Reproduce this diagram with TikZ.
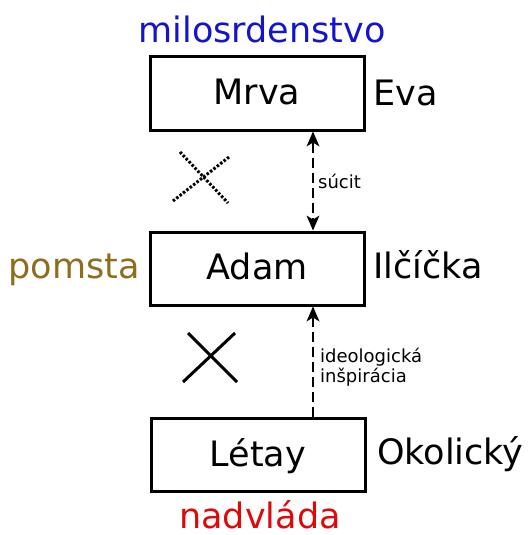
\documentclass[tikz,border=0pt]{standalone}
\usepackage{fontspec}
\setmainfont{DejaVu Sans}
\usetikzlibrary{arrows.meta}
\definecolor{cblue}{RGB}{20,20,205}
\definecolor{cred}{RGB}{220,10,10}
\definecolor{colive}{RGB}{140,110,30}
\tikzset{
  bigfont/.style={font=\fontsize{35}{40}\selectfont},
  smallfont/.style={font=\fontsize{18}{20}\selectfont},
  charbox/.style={draw, line width=3pt, minimum width=214pt, minimum height=73pt,
    inner sep=0pt, text height=25pt, text depth=3pt, bigfont},
  lbl/.style={inner sep=0pt, bigfont},
  slbl/.style={inner sep=0pt, smallfont},
  rel/.style={line width=2.4pt, dash pattern=on 10pt off 5pt,
    -{Stealth[length=15pt,width=13pt,inset=4pt,line width=0pt]}},
  relboth/.style={rel, {Stealth[length=15pt,width=13pt,inset=4pt,line width=0pt]}-{Stealth[length=15pt,width=13pt,inset=4pt,line width=0pt]}},
  cross/.style={line width=3pt}
}
\begin{document}
\begin{tikzpicture}[x=1pt,y=-1pt]
\useasboundingbox (0,0) rectangle (527,535);
\node[charbox] (mrva) at (257,93.5) {Mrva};
\node[charbox] (adam) at (257,268.5) {Adam};
\node[charbox] (letay) at (258,455) {Létay};
\node[lbl, anchor=base west] (eva) at (373,105) {Eva};
\node[lbl, anchor=base west] (ilcicka) at (373,278) {Ilčíčka};
\node[lbl, anchor=base west] (okolicky) at (377,464) {Okolický};
\node[lbl, anchor=base east, text=colive] (pomsta) at (140,278) {pomsta};
\node[lbl, anchor=base, text=cblue] (milos) at (262,43) {milosrdenstvo};
\node[lbl, anchor=base, text=cred] (nadvlada) at (260,528) {nadvláda};
\draw[relboth] ([xshift=56pt]mrva.south) -- ([xshift=56pt]adam.north)
  node[midway, right=4pt, slbl] (sucit) {súcit};
\draw[rel] ([xshift=55pt]letay.north) -- ([xshift=56pt]adam.south);
\node[slbl, anchor=base west] (ideo) at (320,362) {ideologická};
\node[slbl, anchor=base west] (insp) at (320,382) {inšpirácia};
\draw[cross, dash pattern=on 2.5pt off 1.8pt] (180,152) -- (228,203);
\draw[cross, dash pattern=on 2.5pt off 1.8pt] (229,157) -- (173,201);
\draw[cross] (188,333) -- (237,382);
\draw[cross] (235,333) -- (183,382);
\end{tikzpicture}
\end{document}
